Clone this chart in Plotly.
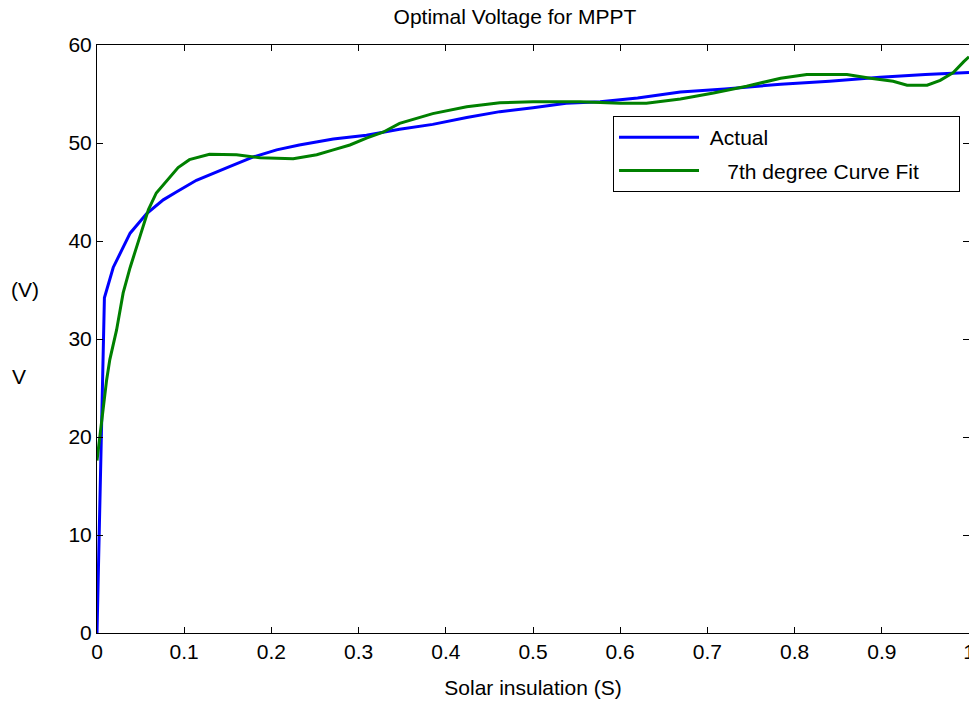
import plotly.graph_objects as go

# Data
actual_s = [0, 0.0085, 0.0186, 0.038, 0.057, 0.076, 0.091, 0.114, 0.152, 0.18, 0.206,
            0.232, 0.271, 0.309, 0.347, 0.385, 0.424, 0.462, 0.5, 0.538, 0.577, 0.62,
            0.669, 0.72, 0.784, 0.84, 0.898, 0.95, 1.0]
actual_v = [0, 34.2, 37.3, 40.8, 42.8, 44.2, 45.0, 46.2, 47.6, 48.6, 49.3,
            49.8, 50.4, 50.8, 51.4, 51.9, 52.6, 53.2, 53.6, 54.05, 54.2, 54.6,
            55.2, 55.5, 56.0, 56.3, 56.7, 57.0, 57.2]

fit_s = [0, 0.0052, 0.011, 0.0147, 0.0224, 0.030, 0.038, 0.049, 0.059, 0.068, 0.080,
         0.093, 0.106, 0.129, 0.160, 0.187, 0.225, 0.252, 0.271, 0.29, 0.309, 0.328,
         0.347, 0.366, 0.385, 0.424, 0.462, 0.5, 0.554, 0.6, 0.63, 0.669, 0.707, 0.745,
         0.784, 0.814, 0.86, 0.887, 0.913, 0.929, 0.952, 0.967, 0.982, 0.994, 1.0]
fit_v = [17.6, 21.7, 25.8, 27.9, 30.9, 34.7, 37.3, 40.4, 43.2, 44.9, 46.2,
         47.5, 48.3, 48.85, 48.8, 48.5, 48.4, 48.8, 49.3, 49.8, 50.5, 51.1,
         52.0, 52.5, 53.0, 53.7, 54.1, 54.2, 54.2, 54.05, 54.05, 54.5, 55.1, 55.8,
         56.6, 57.0, 57.0, 56.6, 56.3, 55.9, 55.9, 56.4, 57.2, 58.3, 58.8]

x_ticks = [0, 0.1, 0.2, 0.3, 0.4, 0.5, 0.6, 0.7, 0.8, 0.9, 1]
x_labels = ["0", "0.1", "0.2", "0.3", "0.4", "0.5", "0.6", "0.7", "0.8", "0.9", "1"]
y_ticks = [0, 10, 20, 30, 40, 50, 60]
y_labels = ["0", "10", "20", "30", "40", "50", "60"]

FONT = "Liberation Sans, Arial, sans-serif"
FS = 21
NB = "\u00a0"

fig = go.Figure()
fig.add_trace(go.Scatter(x=actual_s, y=actual_v, mode="lines", name=NB + "Actual",
                         legendgroup="a",
                         line=dict(color="#0000FF", width=3)))
fig.add_trace(go.Scatter(x=fit_s, y=fit_v, mode="lines",
                         name=NB * 4 + "7th degree Curve Fit" + NB * 6,
                         legendgroup="b",
                         line=dict(color="#008000", width=3)))

axis_common = dict(showgrid=False, zeroline=False, showline=True, linecolor="black",
                   linewidth=1, mirror="ticks", ticks="inside", ticklen=6,
                   tickcolor="black", ticklabeloverflow="allow", automargin=False,
                   tickfont=dict(family=FONT, size=FS, color="black"))

fig.update_layout(
    width=969, height=705,
    margin=dict(l=97, r=0, t=45, b=72, autoexpand=False),
    paper_bgcolor="white", plot_bgcolor="white",
    font=dict(family=FONT, size=FS, color="black"),
    title=dict(text="Optimal Voltage for MPPT", xref="paper", x=(515 - 97) / 872,
               xanchor="center", yref="container", y=1 - 17 / 705, yanchor="middle",
               font=dict(family=FONT, size=FS)),
    xaxis=dict(range=[0, 1], tickvals=x_ticks, ticktext=x_labels,
               title=dict(text="Solar insulation (S)", font=dict(family=FONT, size=FS), standoff=18),
               **axis_common),
    yaxis=dict(range=[0, 60], tickvals=y_ticks, ticktext=y_labels, **axis_common),
    legend=dict(x=(613 - 97) / 872, y=(633 - 116) / 588, xanchor="left", yanchor="top",
                bordercolor="black", borderwidth=1, bgcolor="white",
                font=dict(family=FONT, size=FS), itemwidth=80, tracegroupgap=3),
    showlegend=True,
)

fig.add_annotation(text="(V)", xref="paper", yref="paper", x=(24.5 - 97) / 872, y=(633 - 289) / 588,
                   xanchor="center", yanchor="middle", showarrow=False,
                   font=dict(family=FONT, size=FS))
fig.add_annotation(text="V", xref="paper", yref="paper", x=(19 - 97) / 872, y=(633 - 376) / 588,
                   xanchor="center", yanchor="middle", showarrow=False,
                   font=dict(family=FONT, size=FS))

fig.write_html("out.html")
